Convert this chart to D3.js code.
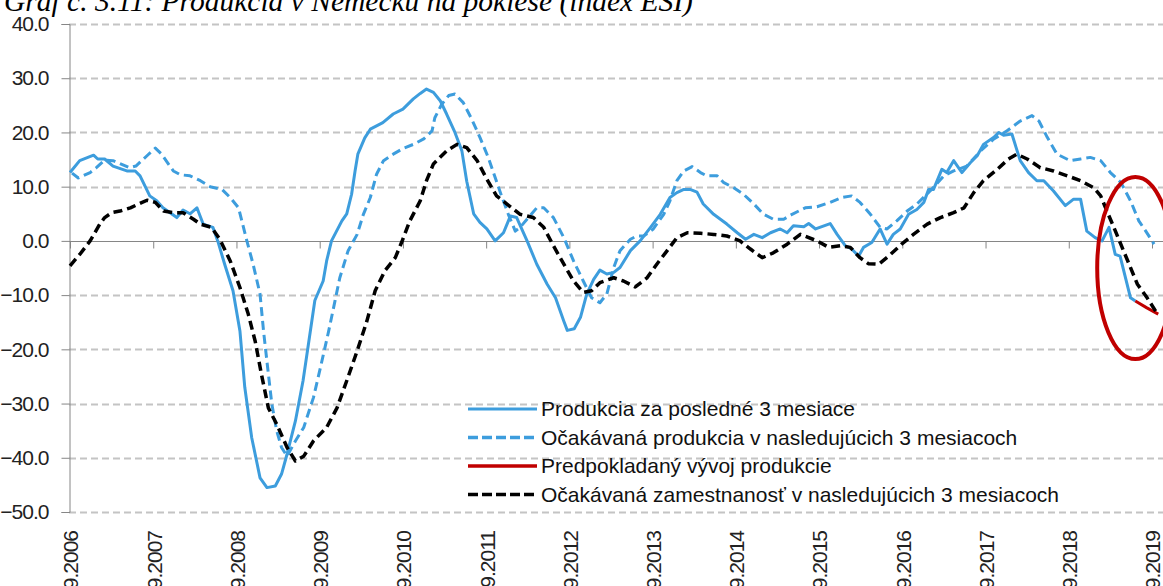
<!DOCTYPE html>
<html>
<head>
  <meta charset="UTF-8">
  <title>Produkcia v Nemecku na poklese</title>
  <script src="https://d3js.org/d3.v7.min.js"></script>
  <style>
    body {
      margin: 0;
      padding: 0;
      background: #ffffff;
    }
    svg text {
      font-family: 'Liberation Sans', Arial, sans-serif;
    }
    .title {
      font-family: 'Liberation Serif', 'Times New Roman', serif;
      font-style: italic;
    }
  </style>
</head>
<body>
  <svg id="chart" width="1163" height="586"></svg>
  <script>
    // months counted from 9.2006 (0) to 9.2019 (156)
    const yearLabels = ["9.2006", "9.2007", "9.2008", "9.2009", "9.2010", "9.2011", "9.2012",
      "9.2013", "9.2014", "9.2015", "9.2016", "9.2017", "9.2018", "9.2019"];
    const yTicks = [40, 30, 20, 10, 0, -10, -20, -30, -40, -50];

    // Produkcia za posledné 3 mesiace  [month, value]
    const prodLast = [[0,12.6],[1.4,14.8],[3.4,15.8],[4,15.1],[5,15.1],[6.2,13.8],[8.2,12.9],[9.4,12.9],
      [10.1,12],[11.5,8.3],[12.5,7.4],[13.4,6.1],[15.4,4.3],[16.3,5.7],[17.3,5],[18.3,6.1],[19.2,3.1],
      [20.6,2.5],[21.3,0],[22.3,-4.3],[23.5,-9.2],[24.5,-16.6],[25.2,-27],[26.2,-36.3],[27.4,-43.7],
      [28.4,-45.5],[29.6,-45.2],[30.5,-43],[31.3,-39.3],[32.5,-33.2],[33.6,-25.8],[34.3,-19.7],
      [35.3,-11],[36.5,-7.4],[37,-3.7],[37.7,0],[39.2,3.7],[39.9,5],[40.6,8.6],[41.1,12.9],[41.5,16],
      [42.5,19],[43.3,20.6],[45.1,21.8],[46.6,23.4],[48,24.3],[49.5,26.2],[50.5,27.2],[51.4,28],
      [52.4,27.4],[53.4,25.8],[54.3,23.4],[55.5,20],[56.5,16.6],[57.2,11],[58.2,5],[59.1,3.4],
      [60.1,2.2],[61.3,0],[62.5,1.5],[63.5,4.6],[64.4,4.3],[65.9,0],[67.3,-4.3],[68.8,-8],[70,-10.5],
      [71.2,-14.8],[71.7,-16.5],[72.7,-16.2],[73.6,-14.1],[74.5,-9.8],[75.5,-7.1],[76.4,-5.4],
      [77.4,-6.1],[78.4,-5.8],[79.3,-4.9],[80.8,-1.8],[82.2,0],[83.7,2.5],[85.1,4.9],[86.5,8],
      [87.5,8.9],[88.5,9.5],[89.4,9.5],[90.4,9],[91.3,6.8],[92.8,4.9],[94.7,3.1],[96.2,1.5],
      [97.4,0.3],[98.6,1.2],[99.8,0.6],[101,1.5],[102.4,2.2],[103.4,1.5],[104.3,2.8],[105.8,2.6],
      [106.5,3.2],[107.5,2.2],[109.6,3.2],[110.6,1.2],[111.8,-0.9],[112.7,-1.5],[113.7,-2.8],
      [114.4,-1.2],[115.6,-0.3],[116.8,2.2],[117.8,-0.6],[118.7,1.2],[119.7,2.2],[120.9,4.9],
      [122.1,5.8],[123.1,7.1],[123.8,9.5],[124.5,9.5],[125.7,13.2],[126.4,12.6],[127.4,14.8],
      [128.6,12.6],[129.8,14.4],[130.8,15.7],[131.7,17.8],[133.2,19.1],[133.9,20],[134.6,19.5],
      [135.8,19.7],[137,14.8],[138.2,12.6],[139.4,11.1],[140.4,11.1],[141.8,9.2],[143.5,6.5],
      [144.7,7.7],[145.7,7.7],[146.6,1.8],[147.8,0.6],[148.8,0],[149.8,2.5],[150.7,-2.5],
      [151.4,-2.8],[152.9,-10.5],[153.6,-11.1]];

    // Očakávaná produkcia v nasledujúcich 3 mesiacoch
    const prodExp = [[0.3,12.5],[1.2,11.6],[2.9,12.6],[3.8,13.5],[5,14.9],[6.2,14.8],[8.6,13.5],
      [9.5,13.8],[11.1,15.7],[12.3,17.1],[13.2,16],[14.9,12.9],[15.9,12.2],[17.3,12],[18.8,11.1],
      [20.2,10],[21.9,9.5],[23.1,8],[24.3,6.1],[25.5,0],[26.4,-4.3],[27.4,-9.8],[27.9,-16.6],
      [28.5,-23.4],[29.1,-30.1],[29.8,-35],[30.5,-38.1],[31.3,-39.7],[32.5,-36.9],[33.7,-34.4],
      [35.1,-28.9],[36.1,-23.4],[37.3,-16.6],[38.2,-11.1],[38.9,-6.8],[40.1,-1.8],[41.4,1.2],
      [42.3,4.9],[43.3,8],[44.2,12.3],[45.2,14.8],[46.6,16],[48.1,17.1],[49.5,17.8],[51,18.8],
      [52.2,20.3],[52.6,22.7],[53.6,25.2],[54.6,26.8],[55.5,27.1],[56.7,25.5],[57.9,22.5],
      [59.1,19.1],[60.3,15.4],[61.3,11.7],[62.3,8],[63.2,4.9],[64.2,1.8],[64.9,2.5],[66.1,4.3],
      [67.3,6.1],[68.3,6.1],[69.7,4.3],[71.2,0.6],[72.6,-3.7],[74,-7.4],[75.2,-10.5],[76.4,-11.4],
      [77.4,-9.8],[78.4,-4.9],[79.3,-1.8],[80.8,0.3],[81.7,0.9],[82.7,0.9],[84.1,2.2],[85.6,4.9],
      [86.5,7.4],[87.5,11.1],[88.5,12.9],[89.7,13.7],[90.9,12.6],[91.8,12],[93.3,12],[94.2,10.8],
      [95.7,9.8],[97.1,8.6],[98.6,6.8],[100,4.9],[101.4,4],[102.9,4],[104.1,4.9],[106,6.1],
      [107.7,6.3],[109.6,7.1],[111.3,8],[112.7,8.3],[113.9,7.1],[115.4,4.9],[116.8,2.5],
      [117.8,2.2],[119.2,3.7],[120.7,5.5],[122.1,6.8],[124,9.2],[126,12],[127.4,12.9],[129.3,13.8],
      [131.3,16.6],[133.2,18.8],[135.1,20.3],[137,22.1],[138.7,23.1],[139.7,22.1],[140.9,19.1],
      [142.3,16],[144.2,14.8],[145.7,15.1],[147.1,15.4],[148.6,14.8],[150,12.6],[151.5,10.8],
      [152.9,7.4],[154.1,3.7],[155.1,1.8],[156.3,-0.6]];

    // Predpokladaný vývoj produkcie
    const prodForecast = [[153.6,-11.1],[155.2,-12.3],[156.9,-13.5]];

    // Očakávaná zamestnanosť v nasledujúcich 3 mesiacoch
    const emplExp = [[0,-4.6],[1.4,-2.5],[2.9,0],[4.3,3.1],[5,4.3],[6,5.2],[7.2,5.5],[8.7,6.1],
      [9.9,6.8],[11.1,7.5],[12.3,7.1],[13.5,5.5],[14.9,5.2],[16.3,5.2],[17.8,4],[18.8,3.1],
      [20.4,2.5],[21.6,0.3],[23.1,-3.7],[24.5,-8.6],[25.7,-13.5],[26.7,-18.5],[27.6,-24.6],
      [28.6,-30.8],[29.8,-33.8],[31.3,-38.1],[32.5,-40.6],[33.7,-39.7],[35.1,-36.9],[37,-34.4],
      [38.5,-30.8],[39.9,-25.8],[41.4,-20.3],[42.8,-14.8],[44,-9.2],[45.4,-5.5],[46.9,-3.1],
      [47.8,-0.3],[49,3.7],[50.5,7.4],[51.4,11.1],[52.4,14.2],[54.3,16.6],[55.8,17.8],[57.2,17.2],
      [58.7,14.8],[60.1,11.4],[61.5,8.3],[63,6.8],[64.9,4.9],[66.8,4.3],[68.3,2.5],[69.7,-0.9],
      [71.2,-4.3],[72.6,-7.4],[74,-9.5],[75.2,-9.2],[76.4,-7.7],[78.4,-6.8],[79.8,-7.4],[81.5,-8.5],
      [83.2,-6.8],[84.6,-4.3],[86.1,-1.8],[87.5,0.6],[89,1.5],[90.9,1.4],[92.8,1.2],[94.7,0.9],
      [96.6,0],[98.1,-1.5],[99.8,-3.1],[101.4,-2.2],[103.4,-0.6],[105.3,1.2],[107.7,0],[109.4,-1.2],
      [111.1,-0.9],[112.5,-1.2],[113.9,-3.1],[115.1,-4.2],[116.6,-4.3],[118.3,-2.5],[119.9,-0.6],
      [121.6,1.2],[123.6,3.1],[125.5,4.3],[127.4,5.2],[128.9,6.1],[130.3,8.9],[131.7,11.1],
      [133.7,13.2],[135.3,15.1],[136.5,16],[138,15.1],[139.9,13.5],[141.8,12.9],[143.8,12],
      [145.7,11.1],[147.6,9.8],[148.6,8.3],[149.5,5.5],[150.5,2.5],[151.5,-0.6],[152.7,-4.3],
      [153.9,-8],[155.3,-10.5],[156.8,-13.5]];

    // red ellipse round the forecast: centre [month, value], radii [months, value]
    const ellipseCentre = [153.6, -5];
    const ellipseRadius = [5.5, 16.8];

    const seriesNames = ["Produkcia za posledné 3 mesiace",
      "Očakávaná produkcia v nasledujúcich 3 mesiacoch",
      "Predpokladaný vývoj produkcie",
      "Očakávaná zamestnanosť v nasledujúcich 3 mesiacoch"];

    const blue = "#3d9ddd";
    const series = [
      { name: seriesNames[1], data: prodExp, color: blue, width: 3, dash: "9,5" },
      { name: seriesNames[0], data: prodLast, color: blue, width: 3, dash: null },
      { name: seriesNames[2], data: prodForecast, color: "#c00000", width: 3, dash: null },
      { name: seriesNames[3], data: emplExp, color: "#000000", width: 3.5, dash: "9,5" }
    ];

    const svg = d3.select("#chart");
    const W = 1163;

    const x = d3.scaleLinear().domain([0, 156]).range([70, 1152]);
    const y = d3.scaleLinear().domain([-50, 40]).range([512, 24]);

    // title, cut at the top as in the original
    svg.append("text")
      .attr("class", "title")
      .attr("x", 4)
      .attr("y", 11)
      .style("font-size", "29.5px")
      .attr("fill", "#000")
      .text("Graf č. 3.11: Produkcia v Nemecku na poklese (index ESI)");

    // grid
    svg.append("g")
      .selectAll("line")
      .data(yTicks.filter(d => d !== 0))
      .enter().append("line")
      .attr("x1", 69).attr("x2", W)
      .attr("y1", d => Math.round(y(d)) + 0.5)
      .attr("y2", d => Math.round(y(d)) + 0.5)
      .attr("stroke", "#c4c4c4")
      .attr("stroke-width", 2)
      .attr("stroke-dasharray", "7,4");

    // y axis
    const yAxis = svg.append("g")
      .attr("transform", "translate(69.5,0)")
      .call(d3.axisLeft(y).tickValues(yTicks).tickSize(8).tickPadding(13).tickFormat(d3.format(".1f")));
    yAxis.select(".domain").attr("stroke", "#868686");
    yAxis.selectAll(".tick line").attr("stroke", "#868686");
    yAxis.selectAll("text")
      .attr("fill", "#222")
      .style("font-size", "21px")
      .style("letter-spacing", "-1px");

    // horizontal axis at zero
    const xAxis = svg.append("g")
      .attr("transform", `translate(0,${Math.round(y(0)) + 0.5})`)
      .call(d3.axisBottom(x).tickValues(d3.range(0, 157, 12)).tickSize(7).tickFormat(""));
    xAxis.select(".domain").attr("stroke", "#868686").attr("d", `M69,0H${W}`);
    xAxis.selectAll(".tick line").attr("stroke", "#868686");

    // year labels at the bottom
    svg.append("g")
      .selectAll("text")
      .data(yearLabels)
      .enter().append("text")
      .attr("transform", (d, i) => `translate(${x(i * 12) + 1},531) rotate(-90)`)
      .attr("text-anchor", "end")
      .attr("dy", "0.35em")
      .attr("fill", "#222")
      .style("font-size", "21px")
      .style("letter-spacing", "-1px")
      .text(d => d);

    const line = d3.line().x(d => x(d[0])).y(d => y(d[1]));

    svg.append("g")
      .selectAll("path")
      .data(series)
      .enter().append("path")
      .attr("d", d => line(d.data))
      .attr("fill", "none")
      .attr("stroke", d => d.color)
      .attr("stroke-width", d => d.width)
      .attr("stroke-dasharray", d => d.dash)
      .attr("stroke-linejoin", "round");

    // ellipse
    svg.append("ellipse")
      .attr("cx", x(ellipseCentre[0]))
      .attr("cy", y(ellipseCentre[1]))
      .attr("rx", x(ellipseCentre[0] + ellipseRadius[0]) - x(ellipseCentre[0]))
      .attr("ry", y(ellipseCentre[1] - ellipseRadius[1]) - y(ellipseCentre[1]))
      .attr("fill", "none")
      .attr("stroke", "#c00000")
      .attr("stroke-width", 4);

    // legend
    const legendOrder = [
      { name: seriesNames[0], color: blue, width: 3, dash: null },
      { name: seriesNames[1], color: blue, width: 3.5, dash: "10,4" },
      { name: seriesNames[2], color: "#c00000", width: 3.5, dash: null },
      { name: seriesNames[3], color: "#000000", width: 3.5, dash: "10,4" }
    ];
    const legend = svg.append("g")
      .selectAll("g")
      .data(legendOrder)
      .enter().append("g")
      .attr("transform", (d, i) => `translate(468,${409 + i * 28.5})`);
    legend.append("line")
      .attr("x1", 0).attr("x2", 69)
      .attr("stroke", d => d.color)
      .attr("stroke-width", d => d.width)
      .attr("stroke-dasharray", d => d.dash);
    legend.append("text")
      .attr("x", 73)
      .attr("dy", "0.35em")
      .attr("fill", "#111")
      .style("font-size", "21px")
      .style("letter-spacing", "0px")
      .text(d => d.name);
  </script>
</body>
</html>
